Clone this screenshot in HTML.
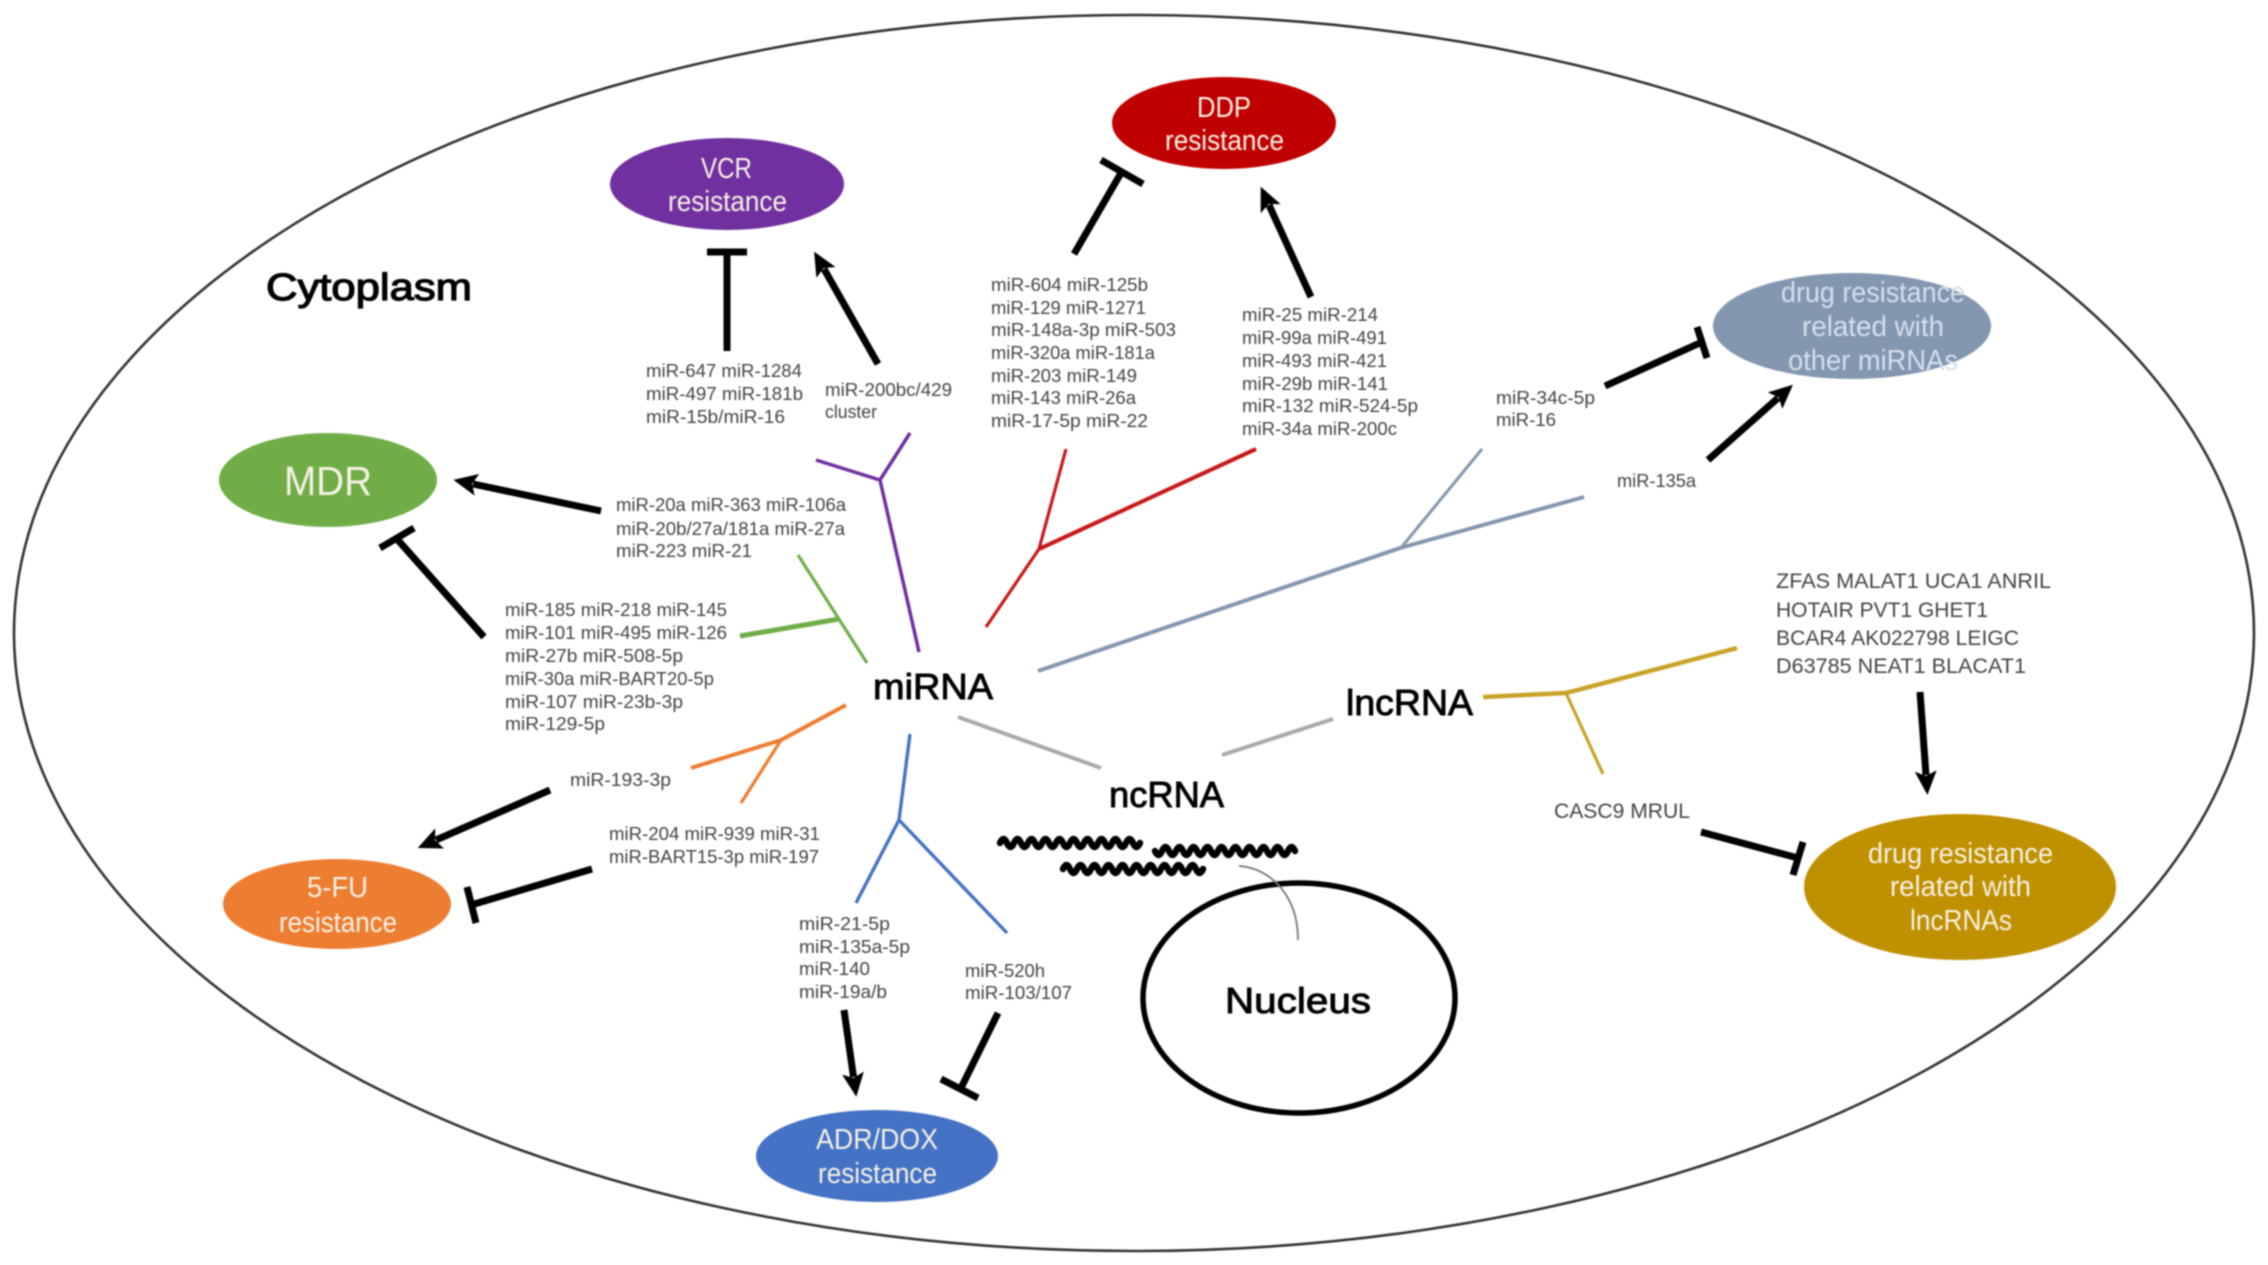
<!DOCTYPE html>
<html>
<head>
<meta charset="utf-8">
<title>ncRNA drug resistance</title>
<style>
html,body{margin:0;padding:0;background:#fff;width:2268px;height:1265px;overflow:hidden}
svg{display:block;filter:blur(.7px)}
text{font-family:"Liberation Sans",sans-serif}
.s{font-size:18px;fill:#444}
.m{font-size:21.5px;fill:#444}
.b{font-size:36px;fill:#000;stroke:#000;stroke-width:.9px}
.w{font-size:29px;fill:#f6f1e4}
.p{fill:#d6dfeb}
.k{stroke:#000;stroke-width:7;fill:none}
.c{fill:none}
</style>
</head>
<body>
<svg width="2268" height="1265" viewBox="0 0 2268 1265" xmlns="http://www.w3.org/2000/svg">
<defs>
<marker id="a" markerUnits="userSpaceOnUse" markerWidth="44" markerHeight="44" refX="4" refY="22" orient="auto" viewBox="0 0 44 44">
<path d="M0,11 L24,22 L0,33 L5,22z" fill="#000"/>
</marker>
</defs>
<rect width="2268" height="1265" fill="#fff"/>
<ellipse cx="1134" cy="633" rx="1120" ry="618" fill="none" stroke="#333" stroke-width="2.6"/>

<!-- ellipses -->
<ellipse cx="727" cy="184" rx="117" ry="46" fill="#7030A0"/>
<ellipse cx="1224" cy="123" rx="112" ry="46" fill="#C00000"/>
<ellipse cx="328" cy="480" rx="109" ry="47" fill="#70AD47"/>
<ellipse cx="337" cy="904" rx="114" ry="45" fill="#ED7D31"/>
<ellipse cx="877" cy="1156" rx="121" ry="46" fill="#4472C4"/>
<ellipse cx="1852" cy="326" rx="139" ry="53" fill="#8497B0"/>
<ellipse cx="1960" cy="887" rx="156" ry="73" fill="#BF9000"/>
<ellipse cx="1299" cy="998" rx="156" ry="115" fill="none" stroke="#000" stroke-width="5.5"/>

<!-- branches -->
<g class="c" stroke="#7030A0" stroke-width="3.5">
<path d="M919,652 L880,480 M816,460 L880,480 L910,433"/>
</g>
<g class="c" stroke="#70AD47">
<path d="M867,663 L798,555" stroke-width="3.2"/>
<path d="M839,619 L740,636" stroke-width="5"/>
</g>
<g class="c" stroke="#C81818">
<path d="M986,627 L1039,549 L1066,449" stroke-width="3.2"/>
<path d="M1039,549 L1256,449" stroke-width="4"/>
</g>
<g class="c" stroke="#8497B0">
<path d="M1038,671 L1400,548 L1584,497" stroke-width="4"/>
<path d="M1400,549 L1482,449" stroke-width="3"/>
</g>
<g class="c" stroke="#ED7D31">
<path d="M846,705 L781,740 L691,768" stroke-width="4"/>
<path d="M781,740 L741,803" stroke-width="3.2"/>
</g>
<g class="c" stroke="#4472C4" stroke-width="3.4">
<path d="M910,734 L899,820 L856,903 M899,820 L1007,933"/>
</g>
<g class="c" stroke="#AAAAAA" stroke-width="4">
<path d="M958,717 L1101,768 M1222,755 L1333,719"/>
</g>
<g class="c" stroke="#C9A227">
<path d="M1483,697 L1566,693 L1737,648" stroke-width="4.5"/>
<path d="M1566,693 L1603,774" stroke-width="3.2"/>
</g>

<!-- arrows -->
<g class="k">
<line x1="878" y1="364" x2="824" y2="269" marker-end="url(#a)"/>
<line x1="601" y1="511" x2="473" y2="484" marker-end="url(#a)"/>
<line x1="1311" y1="297" x2="1269" y2="205" marker-end="url(#a)"/>
<line x1="1708" y1="460" x2="1778" y2="398" marker-end="url(#a)"/>
<line x1="550" y1="790" x2="436" y2="840" marker-end="url(#a)"/>
<line x1="844" y1="1010" x2="853.5" y2="1077" marker-end="url(#a)"/>
<line x1="1920" y1="692" x2="1926" y2="775" marker-end="url(#a)"/>
<!-- inhibitors -->
<path d="M727,351 L727,252 M707,252 L747,252"/>
<path d="M484,637 L397,539 M380,548 L414,528"/>
<path d="M1074,254 L1121,173 M1101,160 L1143,184"/>
<path d="M1605,386 L1702,342 M1697,327 L1707,358"/>
<path d="M592,869 L471,905 M467,887 L476,923"/>
<path d="M998,1013 L961,1088 M941,1079 L978,1098"/>
<path d="M1701,832 L1798,858 M1803,842 L1793,875"/>
</g>

<!-- squiggles -->
<g class="c" stroke="#000" stroke-width="6.5" stroke-linecap="round">
<path d="M1000,843 q3.5,-8 7,0 t7,0 t7,0 t7,0 t7,0 t7,0 t7,0 t7,0 t7,0 t7,0 t7,0 t7,0 t7,0 t7,0 t7,0 t7,0 t7,0 t7,0 t7,0 t7,0"/>
<path d="M1155,851 q3.5,8 7,0 t7,0 t7,0 t7,0 t7,0 t7,0 t7,0 t7,0 t7,0 t7,0 t7,0 t7,0 t7,0 t7,0 t7,0 t7,0 t7,0 t7,0 t7,0 t7,0"/>
<path d="M1063,869 q3.5,-8 7,0 t7,0 t7,0 t7,0 t7,0 t7,0 t7,0 t7,0 t7,0 t7,0 t7,0 t7,0 t7,0 t7,0 t7,0 t7,0 t7,0 t7,0 t7,0 t7,0"/>
</g>
<path d="M1239,866 C1270,868 1298,895 1298,940" fill="none" stroke="#777" stroke-width="1.8"/>

<!-- big labels -->
<text class="b" x="266" y="300" textLength="206" lengthAdjust="spacingAndGlyphs" style="font-size:38px;stroke-width:1.2px">Cytoplasm</text>
<text class="b" x="873" y="699" textLength="120" lengthAdjust="spacingAndGlyphs">miRNA</text>
<text class="b" x="1109" y="807" textLength="115" lengthAdjust="spacingAndGlyphs">ncRNA</text>
<text class="b" x="1346" y="715" textLength="127" lengthAdjust="spacingAndGlyphs">lncRNA</text>
<text class="b" x="1225" y="1013" textLength="146" lengthAdjust="spacingAndGlyphs">Nucleus</text>

<!-- ellipse labels -->
<text class="w" x="701" y="178" textLength="51" lengthAdjust="spacingAndGlyphs">VCR</text>
<text class="w" x="668" y="211" textLength="119" lengthAdjust="spacingAndGlyphs">resistance</text>
<text class="w" x="284" y="495" textLength="88" lengthAdjust="spacingAndGlyphs" style="font-size:41px">MDR</text>
<text class="w" x="1197" y="117" textLength="54" lengthAdjust="spacingAndGlyphs">DDP</text>
<text class="w" x="1165" y="150" textLength="119" lengthAdjust="spacingAndGlyphs">resistance</text>
<text class="w" x="307" y="897" textLength="61" lengthAdjust="spacingAndGlyphs">5-FU</text>
<text class="w" x="279" y="932" textLength="118" lengthAdjust="spacingAndGlyphs">resistance</text>
<text class="w" x="816" y="1149" textLength="122" lengthAdjust="spacingAndGlyphs">ADR/DOX</text>
<text class="w" x="818" y="1183" textLength="119" lengthAdjust="spacingAndGlyphs">resistance</text>
<text class="w p" x="1781" y="302" textLength="184" lengthAdjust="spacingAndGlyphs">drug resistance</text>
<text class="w p" x="1802" y="336" textLength="142" lengthAdjust="spacingAndGlyphs">related with</text>
<text class="w p" x="1788" y="370" textLength="170" lengthAdjust="spacingAndGlyphs">other miRNAs</text>
<text class="w" x="1868" y="863" textLength="185" lengthAdjust="spacingAndGlyphs">drug resistance</text>
<text class="w" x="1890" y="896" textLength="141" lengthAdjust="spacingAndGlyphs">related with</text>
<text class="w" x="1910" y="930" textLength="102" lengthAdjust="spacingAndGlyphs">lncRNAs</text>

<!-- small labels -->
<text class="s" x="646" y="377" textLength="156" lengthAdjust="spacingAndGlyphs">miR-647 miR-1284</text>
<text class="s" x="646" y="400" textLength="157" lengthAdjust="spacingAndGlyphs">miR-497 miR-181b</text>
<text class="s" x="646" y="423" textLength="139" lengthAdjust="spacingAndGlyphs">miR-15b/miR-16</text>
<text class="s" x="825" y="396" textLength="127" lengthAdjust="spacingAndGlyphs">miR-200bc/429</text>
<text class="s" x="825" y="418" textLength="52" lengthAdjust="spacingAndGlyphs">cluster</text>

<text class="s" x="616" y="511" textLength="230" lengthAdjust="spacingAndGlyphs">miR-20a miR-363 miR-106a</text>
<text class="s" x="616" y="535" textLength="229" lengthAdjust="spacingAndGlyphs">miR-20b/27a/181a miR-27a</text>
<text class="s" x="616" y="557" textLength="136" lengthAdjust="spacingAndGlyphs">miR-223 miR-21</text>

<text class="s" x="505" y="616" textLength="222" lengthAdjust="spacingAndGlyphs">miR-185 miR-218 miR-145</text>
<text class="s" x="505" y="639" textLength="222" lengthAdjust="spacingAndGlyphs">miR-101 miR-495 miR-126</text>
<text class="s" x="505" y="662" textLength="178" lengthAdjust="spacingAndGlyphs">miR-27b miR-508-5p</text>
<text class="s" x="505" y="685" textLength="209" lengthAdjust="spacingAndGlyphs">miR-30a miR-BART20-5p</text>
<text class="s" x="505" y="708" textLength="178" lengthAdjust="spacingAndGlyphs">miR-107 miR-23b-3p</text>
<text class="s" x="505" y="730" textLength="100" lengthAdjust="spacingAndGlyphs">miR-129-5p</text>

<text class="s" x="991" y="291" textLength="157" lengthAdjust="spacingAndGlyphs">miR-604 miR-125b</text>
<text class="s" x="991" y="314" textLength="155" lengthAdjust="spacingAndGlyphs">miR-129 miR-1271</text>
<text class="s" x="991" y="336" textLength="185" lengthAdjust="spacingAndGlyphs">miR-148a-3p miR-503</text>
<text class="s" x="991" y="359" textLength="164" lengthAdjust="spacingAndGlyphs">miR-320a miR-181a</text>
<text class="s" x="991" y="382" textLength="146" lengthAdjust="spacingAndGlyphs">miR-203 miR-149</text>
<text class="s" x="991" y="404" textLength="145" lengthAdjust="spacingAndGlyphs">miR-143 miR-26a</text>
<text class="s" x="991" y="427" textLength="157" lengthAdjust="spacingAndGlyphs">miR-17-5p miR-22</text>

<text class="s" x="1242" y="321" textLength="136" lengthAdjust="spacingAndGlyphs">miR-25 miR-214</text>
<text class="s" x="1242" y="344" textLength="145" lengthAdjust="spacingAndGlyphs">miR-99a miR-491</text>
<text class="s" x="1242" y="367" textLength="145" lengthAdjust="spacingAndGlyphs">miR-493 miR-421</text>
<text class="s" x="1242" y="390" textLength="146" lengthAdjust="spacingAndGlyphs">miR-29b miR-141</text>
<text class="s" x="1242" y="412" textLength="176" lengthAdjust="spacingAndGlyphs">miR-132 miR-524-5p</text>
<text class="s" x="1242" y="435" textLength="155" lengthAdjust="spacingAndGlyphs">miR-34a miR-200c</text>

<text class="s" x="1496" y="404" textLength="99" lengthAdjust="spacingAndGlyphs">miR-34c-5p</text>
<text class="s" x="1496" y="426" textLength="60" lengthAdjust="spacingAndGlyphs">miR-16</text>
<text class="s" x="1617" y="487" textLength="79" lengthAdjust="spacingAndGlyphs">miR-135a</text>

<text class="m" x="1776" y="588" textLength="275" lengthAdjust="spacingAndGlyphs">ZFAS MALAT1 UCA1 ANRIL</text>
<text class="m" x="1776" y="617" textLength="212" lengthAdjust="spacingAndGlyphs">HOTAIR PVT1 GHET1</text>
<text class="m" x="1776" y="645" textLength="243" lengthAdjust="spacingAndGlyphs">BCAR4 AK022798 LEIGC</text>
<text class="m" x="1776" y="673" textLength="250" lengthAdjust="spacingAndGlyphs">D63785 NEAT1 BLACAT1</text>
<text class="m" x="1554" y="818" textLength="136" lengthAdjust="spacingAndGlyphs">CASC9 MRUL</text>

<text class="s" x="570" y="786" textLength="101" lengthAdjust="spacingAndGlyphs">miR-193-3p</text>
<text class="s" x="609" y="840" textLength="211" lengthAdjust="spacingAndGlyphs">miR-204 miR-939 miR-31</text>
<text class="s" x="609" y="863" textLength="210" lengthAdjust="spacingAndGlyphs">miR-BART15-3p miR-197</text>

<text class="s" x="799" y="930" textLength="91" lengthAdjust="spacingAndGlyphs">miR-21-5p</text>
<text class="s" x="799" y="953" textLength="111" lengthAdjust="spacingAndGlyphs">miR-135a-5p</text>
<text class="s" x="799" y="975" textLength="71" lengthAdjust="spacingAndGlyphs">miR-140</text>
<text class="s" x="799" y="998" textLength="88" lengthAdjust="spacingAndGlyphs">miR-19a/b</text>
<text class="s" x="965" y="977" textLength="80" lengthAdjust="spacingAndGlyphs">miR-520h</text>
<text class="s" x="965" y="999" textLength="107" lengthAdjust="spacingAndGlyphs">miR-103/107</text>
</svg>
</body>
</html>
